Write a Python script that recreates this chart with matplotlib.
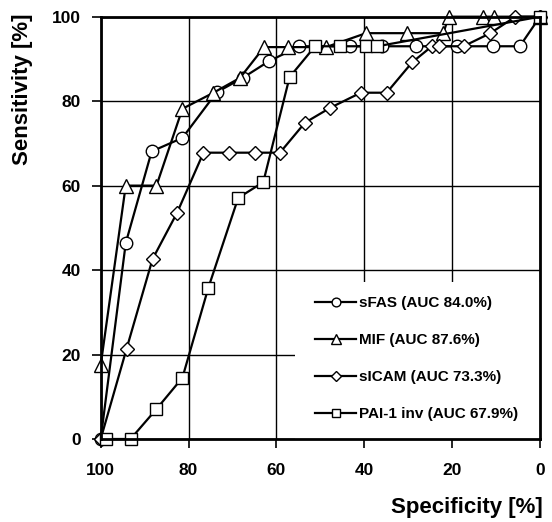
import matplotlib
matplotlib.use("Agg")
import matplotlib.pyplot as plt
from matplotlib.patches import Rectangle

plt.rcParams['font.family'] = ['Liberation Sans', 'DejaVu Sans']
plt.rcParams['font.weight'] = 'bold'

# Data (specificity %, sensitivity %)
sfas_spec = [100, 94.3, 88.4, 81.4, 73.6, 67.7, 61.8, 54.8, 43.2, 36.0, 28.2, 19.0, 10.6, 4.6, 0]
sfas_sens = [0, 46.4, 68.1, 71.3, 82.1, 85.5, 89.4, 93.0, 93.0, 93.0, 93.0, 93.0, 93.0, 93.0, 100]

mif_spec = [100, 94.3, 87.3, 81.4, 74.5, 68.3, 62.8, 57.3, 48.7, 39.6, 30.2, 22.0, 20.8, 13.0, 10.4, 0]
mif_sens = [17.5, 60.0, 60.0, 78.2, 81.9, 85.5, 92.8, 92.8, 92.8, 96.1, 96.1, 96.1, 100, 100, 100, 100]

sicam_spec = [100, 94.1, 88.2, 82.6, 76.6, 70.8, 64.9, 59.2, 53.5, 47.8, 40.8, 34.9, 29.1, 24.6, 23.1, 17.4, 11.3, 5.6, 0]
sicam_sens = [0, 21.4, 42.6, 53.6, 67.8, 67.8, 67.8, 67.8, 74.9, 78.4, 82.0, 82.0, 89.2, 93.0, 93.0, 93.0, 96.1, 100, 100]

pai_spec = [98.8, 93.2, 87.3, 81.4, 75.5, 68.7, 63.0, 57.0, 51.2, 45.5, 39.6, 37.0, 0]
pai_sens = [0, 0, 7.1, 14.5, 35.8, 57.1, 60.8, 85.7, 93.0, 93.0, 93.0, 93.0, 100]

series = [
    ("sFAS (AUC 84.0%)", sfas_spec, sfas_sens, 'o', 9.0),
    ("MIF (AUC 87.6%)", mif_spec, mif_sens, '^', 9.5),
    ("sICAM (AUC 73.3%)", sicam_spec, sicam_sens, 'D', 6.8),
    ("PAI-1 inv (AUC 67.9%)", pai_spec, pai_sens, 's', 8.3),
]

ticks = [0, 20, 40, 60, 80, 100]

fig = plt.figure(figsize=(5.52, 5.22), dpi=100)
ax = fig.add_axes([100.7 / 552, 1 - 439 / 522, 439.3 / 552, 422.3 / 522])
ax.set_xlim(100, 0)
ax.set_ylim(0, 100)
ax.set_axisbelow(True)
ax.grid(True, color='black', linewidth=1.0)

# white area behind the legend (hides grid lines there)
ax.add_patch(Rectangle((0.442, 0.0), 0.558, 0.372, transform=ax.transAxes,
                       facecolor='white', edgecolor='none', zorder=1))

for label, xs, ys, mk, ms in series:
    ax.plot(xs, ys, color='black', linewidth=1.6, marker=mk, markersize=ms,
            markerfacecolor='white', markeredgecolor='black', markeredgewidth=1.0,
            label=label, clip_on=False, zorder=3)

ax.set_xticks(ticks)
ax.set_yticks(ticks)
ax.tick_params(axis='x', direction='out', length=6.5, width=1.2, pad=10.5, labelsize=12.5)
ax.tick_params(axis='y', direction='out', length=6.5, width=1.2, pad=7.7, labelsize=12.5)
for lab in ax.get_xticklabels() + ax.get_yticklabels():
    lab.set_fontweight('bold')
for sp in ax.spines.values():
    sp.set_linewidth(2.0)
    sp.set_zorder(4)

leg = ax.legend(loc='upper left', bbox_to_anchor=(0.488, 0.338), frameon=False,
                borderpad=0, borderaxespad=0, handlelength=2.7, handletextpad=0.15,
                labelspacing=1.5, markerscale=0.7, prop={'size': 11, 'weight': 'bold'})

fig.text(23 / 552, 1 - 89.5 / 522, 'Sensitivity [%]', rotation=90, ha='center', va='center',
         fontsize=16, fontweight='bold')
fig.text(543 / 552, 1 - 507 / 522, 'Specificity [%]', ha='right', va='center',
         fontsize=16, fontweight='bold')

fig.savefig('out.png', dpi=100)
